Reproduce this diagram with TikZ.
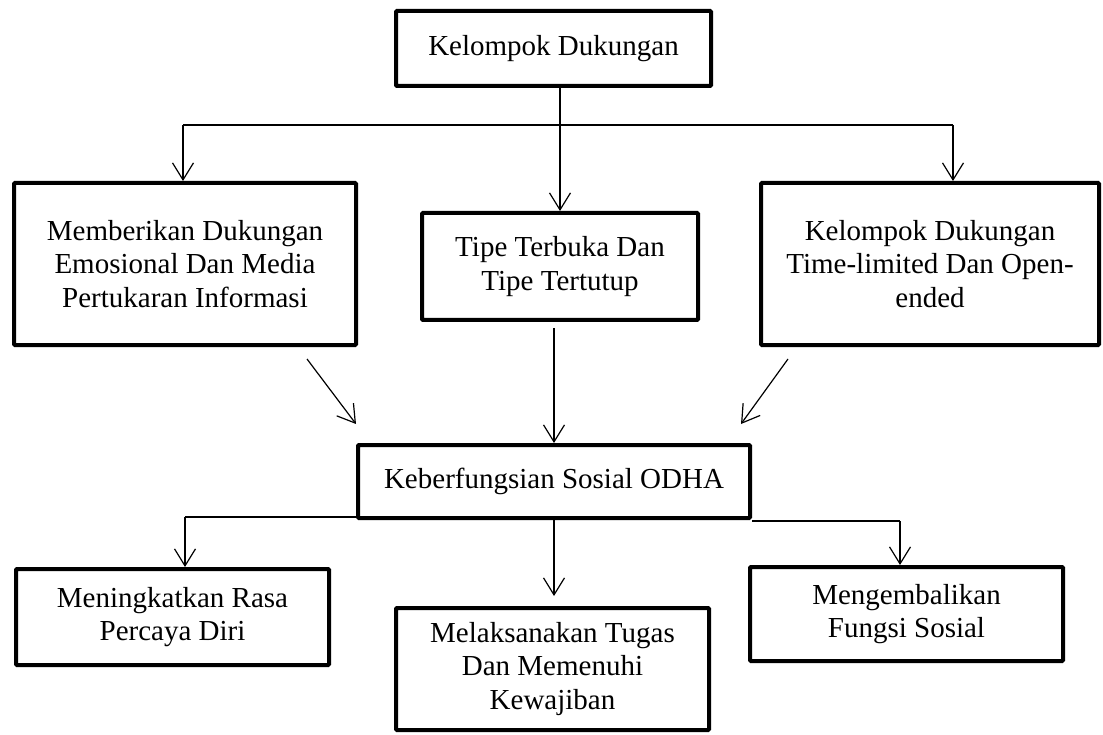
\documentclass[tikz,border=0pt]{standalone}
\usepackage{fontspec}
\setmainfont{Liberation Serif}
\usepackage{tikz}
\usetikzlibrary{arrows.meta, positioning, calc}
\tikzset{
  box/.style={rectangle, draw=black, line width=4pt, rounded corners=1pt, fill=white, inner sep=0pt, align=center, font=\fontsize{29}{33.5}\selectfont},
  arrow/.style={-{Straight Barb[length=17pt, width=21pt, line width=1.2pt]}, line width=1.2pt},
  bar/.style={line width=1.2pt},
}

\begin{document}
\begin{tikzpicture}[x=1pt, y=-1pt]
\useasboundingbox (0,0) rectangle (1103,735);
\node[box, minimum width=315pt, minimum height=75pt] (kd) at (553.5,48.5) {Kelompok Dukungan};
\node[box, minimum width=342pt, minimum height=162pt] (emo) at (185,264) {Memberikan Dukungan\\Emosional Dan Media\\Pertukaran Informasi};
\node[box, minimum width=276pt, minimum height=107pt] (tipe) at (560,266.5) {Tipe Terbuka Dan\\Tipe Tertutup};
\node[box, minimum width=338pt, minimum height=162pt] (tl) at (930,264) {Kelompok Dukungan\\Time-limited Dan Open-\\ended};
\node[box, minimum width=392pt, minimum height=73pt] (odha) at (554,481.5) {Keberfungsian Sosial ODHA};
\node[box, minimum width=313pt, minimum height=96pt] (rasa) at (172.5,617) {Meningkatkan Rasa\\Percaya Diri};
\node[box, minimum width=313pt, minimum height=122pt] (tugas) at (552.5,669) {Melaksanakan Tugas\\Dan Memenuhi\\Kewajiban};
\node[box, minimum width=313pt, minimum height=94pt] (fungsi) at (906.5,614) {Mengembalikan\\Fungsi Sosial};
% top branching
\coordinate (topL) at (183,125);
\coordinate (topR) at (953,125);
\draw[bar] (topL) -- (topR);
\draw[arrow] (topL) -- (topL |- emo.north);
\draw[arrow] (topR) -- (topR |- tl.north);
\draw[arrow] (tipe.north |- kd.south) -- (tipe.north);
% into ODHA
\coordinate (diaL1) at (307,359);
\coordinate (diaL2) at (356,424);
\coordinate (diaR1) at (788,359);
\coordinate (diaR2) at (741,424);
\draw[arrow] (diaL1) -- (diaL2);
\draw[arrow] (diaR1) -- (diaR2);
\draw[arrow, shorten <=6pt] (odha.north |- tipe.south) -- (odha.north);
% bottom branching
\coordinate (botL) at (185,517);
\coordinate (botR) at (900,521);
\draw[bar] (botL) -- (odha.west |- botL);
\draw[bar] (odha.east |- botR) -- (botR);
\draw[arrow] (botL) -- (botL |- rasa.north);
\draw[arrow] (botR) -- (botR |- fungsi.north);
\draw[arrow, shorten >=10pt] (odha.south) -- (odha.south |- tugas.north);
\end{tikzpicture}
\end{document}
